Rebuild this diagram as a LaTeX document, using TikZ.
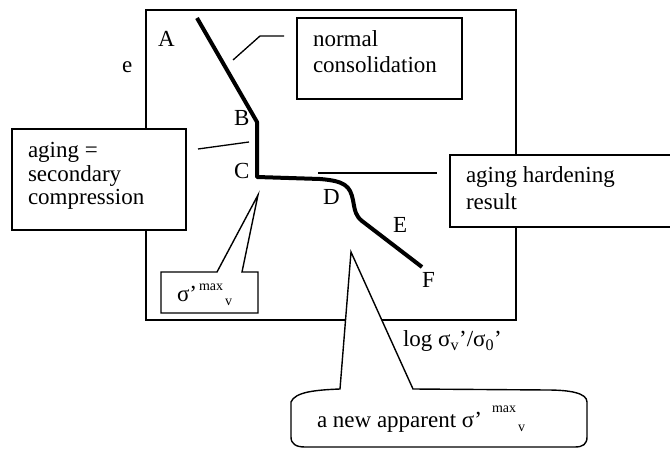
\documentclass[tikz,border=0pt]{standalone}
\usepackage{fontspec}
\setmainfont{Liberation Serif}
\newcommand{\sigmaxv}[2]{σ’\hspace{#1}{\fontsize{14}{16}\selectfont\raisebox{#2}{max}\hspace{2pt}\raisebox{-4pt}{v}}}
\begin{document}
\begin{tikzpicture}[x=1pt,y=-1pt,
  frame/.style={line width=1.5pt},
  curve/.style={line width=4pt, line join=round},
  box/.style={draw, fill=white, line width=1.4pt, inner sep=0pt, outer sep=0pt, anchor=north west},
  callout/.style={draw, fill=white, line width=1.4pt, line join=miter},
  leader/.style={line width=1.3pt},
  txt/.style={anchor=base west, inner sep=0pt, outer sep=0pt, font=\fontsize{23}{26}\selectfont}]
\useasboundingbox (0,0) rectangle (670,449);

% main frame
\node[draw, frame, inner sep=0pt, outer sep=0pt, anchor=north west, minimum width=370pt, minimum height=310pt] (frame) at (146,10) {};

% boxes
\node[box, minimum width=165pt, minimum height=81pt] (ncbox) at (297,18) {};
\node[box, minimum width=174pt, minimum height=101pt] (ascbox) at (12,129) {};
\draw[callout] (672,155) -- (450,155) -- (450,227) -- (672,227);

% sigma' max callout
\draw[callout] (217,272) -- (161,272) -- (161,313) -- (258,313) -- (258,272) -- (242,272) -- (258,195) -- cycle;

% bottom rounded callout
\draw[callout] (340,389) .. controls (315,390) and (295,392) .. (291,402) -- (291,437)
  .. controls (291,444) and (296,447) .. (305,447) -- (575,447)
  .. controls (583,447) and (587,444) .. (587,437) -- (587,402)
  .. controls (587,393) and (570,390) .. (547,390) -- (413,389) -- (351,252) -- cycle;

% curve
\coordinate (A) at (197,18);
\coordinate (B) at (257,122);
\coordinate (C) at (257,177);
\coordinate (D0) at (320,179);
\coordinate (D1) at (353,200);
\coordinate (E0) at (362,221);
\coordinate (F) at (422,267);
\draw[curve] (A) -- (B) -- (C) -- (D0) .. controls (345,181) and (350,186) .. (D1)
  .. controls (355,212) and (356,216) .. (E0) -- (F);

% leaders
\coordinate (nc1) at (284,36);
\coordinate (nc2) at (260,36);
\coordinate (nc3) at (233,60);
\draw[leader] (nc1) -- (nc2) -- (nc3);
\coordinate (as1) at (198,149);
\coordinate (as2) at (249,142);
\draw[leader] (as1) -- (as2);
\coordinate (ah1) at (318,173);
\coordinate (ah2) at (437,173);
\draw[leader] (ah1) -- (ah2);

% texts
\node[txt] (tnormal) at (313,47) {normal};
\node[txt] (tcons) at (313,73) {consolidation};
\node[txt] (taging) at (28,158) {aging =};
\node[txt] (tsec) at (28,182) {secondary};
\node[txt] (tcomp) at (28,205) {compression};
\node[txt] (tah) at (466,183) {aging hardening};
\node[txt] (tres) at (466,210) {result};
\node[txt] (tsig) at (177,302) {\sigmaxv{2pt}{12pt}};
\node[txt] (tnew) at (317,427) {a new apparent \sigmaxv{10pt}{15pt}};
\node[txt] (tlog) at (403,347) {log σ\textsubscript{v}’/σ\textsubscript{0}’};

% labels
\node[txt] (la) at (158,47) {A};
\node[txt] (lb) at (234,126) {B};
\node[txt] (lc) at (234,179) {C};
\node[txt] (ld) at (323,205) {D};
\node[txt] (le) at (393,233) {E};
\node[txt] (lf) at (422,288) {F};
\node[txt] (lee) at (122,73) {e};
\end{tikzpicture}
\end{document}
